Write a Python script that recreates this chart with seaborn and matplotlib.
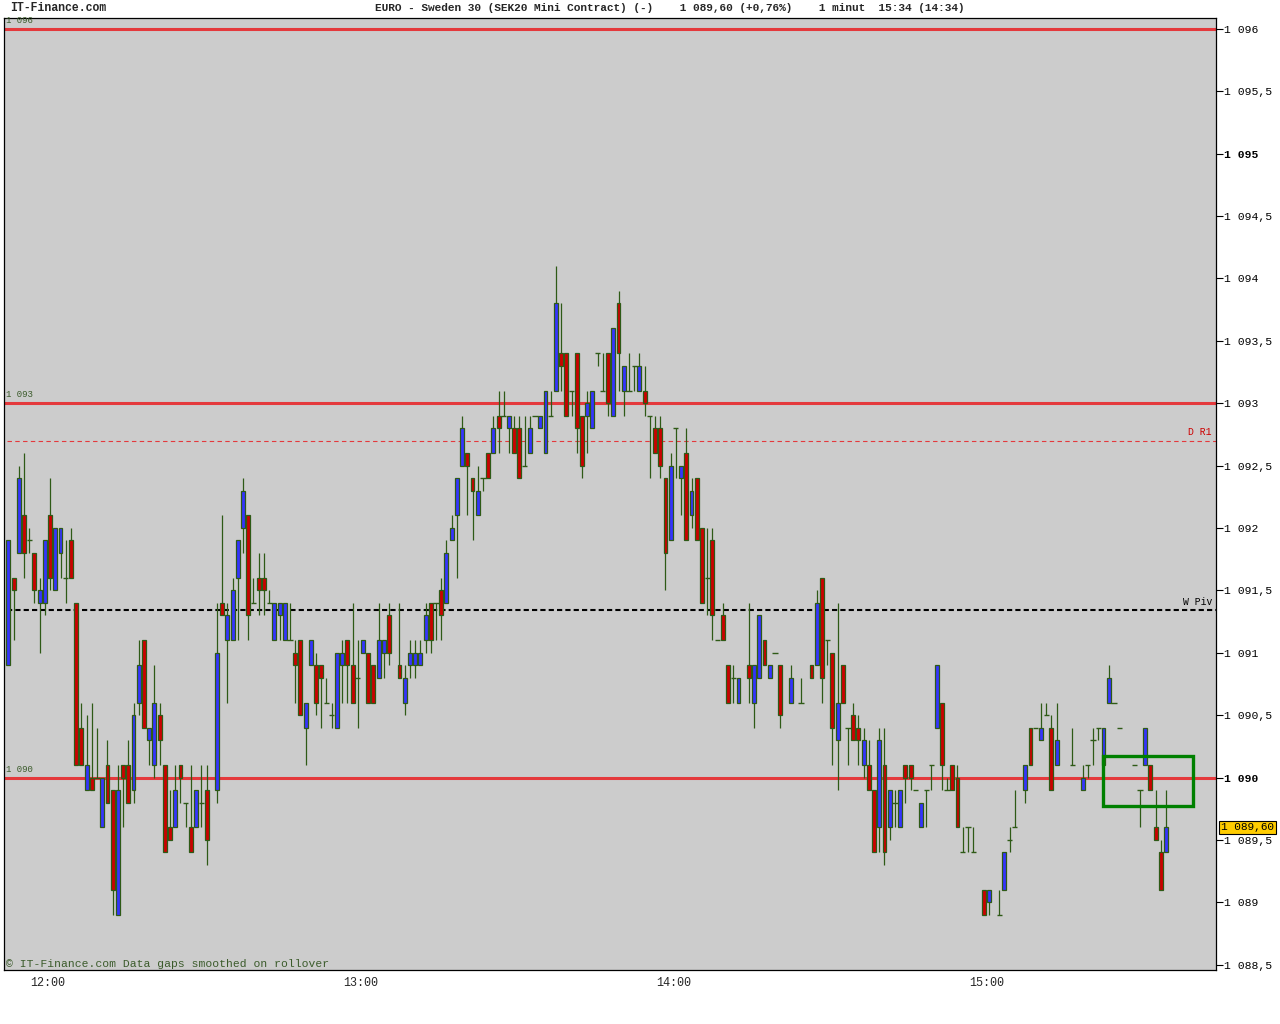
import matplotlib
matplotlib.use("Agg")
import matplotlib.pyplot as plt
import matplotlib.patches as mpatches
import seaborn as sns
import numpy as np

# one-minute bars, minutes counted from 12:00 (negative = before noon)
minutes = [-8, -7, -6, -5, -4, -3, -2, -1, 0, 1, 2, 3, 4, 5, 6, 7, 8, 9, 10, 11,
           12, 13, 14, 15, 16, 17, 18, 19, 20, 21, 22, 23, 24, 25, 26, 27, 28, 29, 30,
           32, 33, 34, 35, 36, 37, 38, 39, 40, 41, 42, 43, 44, 45, 46, 47, 48, 49, 50,
           51, 52, 53, 54, 55, 56, 57, 58, 59, 60, 61, 62, 63, 64, 65, 67, 68, 69, 70,
           71, 72, 73, 74, 75, 76, 77, 78, 79, 80, 81, 82, 83, 84, 85, 86, 87, 88, 89,
           90, 91, 92, 93, 94, 95, 96, 97, 98, 99, 100, 101, 102, 103, 104, 105, 106,
           107, 108, 109, 110, 111, 112, 113, 114, 115, 116, 117, 118, 119, 120, 121,
           122, 123, 124, 125, 126, 127, 128, 129, 130, 131, 132, 134, 135, 136, 137,
           138, 139, 140, 142, 144, 146, 147, 148, 149, 150, 151, 152, 153, 154, 155,
           156, 157, 158, 159, 160, 161, 162, 163, 164, 165, 166, 167, 168, 169, 170,
           171, 172, 173, 174, 175, 176, 177, 179, 180, 182, 183, 184, 185, 187, 188,
           189, 190, 191, 192, 193, 196, 198, 199, 200, 201, 202, 203, 204, 205, 208,
           209, 210, 211, 212, 213, 214]

opens = [1090.9, 1091.6, 1091.8, 1092.1, 1091.9, 1091.8, 1091.4, 1091.4, 1092.1, 1091.5,
         1091.8, 1091.6, 1091.9, 1091.4, 1090.4, 1089.9, 1090.0, 1090.0, 1089.6, 1090.1,
         1089.9, 1088.9, 1090.1, 1090.1, 1089.9, 1090.6, 1091.1, 1090.3, 1090.1, 1090.5,
         1090.1, 1089.6, 1089.6, 1090.1, 1089.8, 1089.6, 1089.6, 1089.8, 1089.9,
         1089.9, 1091.4, 1091.1, 1091.1, 1091.6, 1092.0, 1092.1, 1091.4, 1091.6, 1091.6,
         1091.4, 1091.1, 1091.3, 1091.1, 1091.1, 1091.0, 1091.1, 1090.4, 1090.9, 1090.9,
         1090.9, 1090.6, 1090.5, 1090.4, 1090.9, 1091.1, 1090.9, 1090.8, 1091.0, 1091.0,
         1090.9, 1090.8, 1091.0, 1091.3, 1090.9, 1090.6, 1090.9, 1090.9, 1090.9, 1091.1,
         1091.4, 1091.4, 1091.5, 1091.4, 1091.9, 1092.1, 1092.5, 1092.6, 1092.4, 1092.1,
         1092.4, 1092.6, 1092.6, 1092.9, 1092.9, 1092.8, 1092.8, 1092.8, 1092.5, 1092.6,
         1092.9, 1092.8, 1092.6, 1092.9, 1093.1, 1093.4, 1093.4, 1093.1, 1093.4, 1092.9,
         1092.9, 1092.8, 1093.4, 1093.1, 1093.4, 1092.9, 1093.8, 1093.1, 1093.1, 1093.3,
         1093.1, 1093.1, 1092.9, 1092.8, 1092.8, 1092.4, 1091.9, 1092.8, 1092.4, 1092.6,
         1092.1, 1092.4, 1092.0, 1091.6, 1091.9, 1091.1, 1091.3, 1090.9, 1090.8, 1090.6,
         1090.9, 1090.6, 1090.8, 1091.1, 1090.8, 1091.0, 1090.9, 1090.6, 1090.6, 1090.9,
         1090.9, 1091.6, 1091.1, 1091.0, 1090.3, 1090.9, 1090.4, 1090.5, 1090.4, 1090.1,
         1090.1, 1089.9, 1089.6, 1090.1, 1089.6, 1089.8, 1089.6, 1090.1, 1090.1, 1089.9,
         1089.6, 1089.9, 1090.1, 1090.4, 1090.6, 1089.9, 1090.1, 1090.0, 1089.4, 1089.6,
         1089.4, 1089.1, 1089.0, 1088.9, 1089.1, 1089.5, 1089.6, 1089.9, 1090.4, 1090.4,
         1090.3, 1090.5, 1090.4, 1090.1, 1090.1, 1089.9, 1090.1, 1090.3, 1090.4, 1090.1,
         1090.6, 1090.6, 1090.4, 1090.1, 1089.9, 1090.1, 1090.1, 1089.6, 1089.4, 1089.4]

highs = [1091.9, 1091.6, 1092.5, 1092.6, 1092.0, 1091.8, 1091.6, 1091.9, 1092.4, 1092.0,
         1092.0, 1091.9, 1092.0, 1091.4, 1090.6, 1090.5, 1090.6, 1090.4, 1090.0, 1090.3,
         1089.9, 1090.1, 1090.1, 1090.3, 1090.6, 1091.1, 1091.1, 1090.4, 1090.9, 1090.6,
         1090.1, 1089.9, 1090.1, 1090.1, 1089.8, 1090.1, 1089.9, 1090.1, 1090.1,
         1091.4, 1092.1, 1091.4, 1091.6, 1091.9, 1092.4, 1092.1, 1091.6, 1091.8, 1091.8,
         1091.5, 1091.4, 1091.4, 1091.4, 1091.4, 1091.1, 1091.1, 1090.6, 1091.1, 1091.0,
         1090.9, 1090.8, 1090.6, 1091.0, 1091.1, 1091.1, 1091.4, 1091.1, 1091.1, 1091.0,
         1090.9, 1091.4, 1091.1, 1091.4, 1091.4, 1090.9, 1091.1, 1091.1, 1091.1, 1091.4,
         1091.4, 1091.4, 1091.6, 1091.9, 1092.1, 1092.4, 1092.9, 1092.6, 1092.4, 1092.5,
         1092.4, 1092.6, 1092.9, 1093.1, 1093.1, 1092.9, 1092.9, 1092.9, 1092.9, 1092.9,
         1092.9, 1092.9, 1093.1, 1093.1, 1094.1, 1093.8, 1093.4, 1093.1, 1093.4, 1092.9,
         1093.1, 1093.1, 1093.4, 1093.4, 1093.4, 1093.6, 1093.9, 1093.3, 1093.4, 1093.3,
         1093.4, 1093.3, 1092.9, 1092.9, 1092.9, 1092.4, 1092.6, 1092.8, 1092.5, 1092.8,
         1092.4, 1092.4, 1092.0, 1092.0, 1092.0, 1091.1, 1091.4, 1090.9, 1090.9, 1090.8,
         1091.4, 1090.9, 1091.3, 1091.1, 1090.9, 1091.0, 1090.9, 1090.9, 1090.8, 1090.9,
         1091.5, 1091.6, 1091.1, 1091.0, 1091.4, 1090.9, 1090.4, 1090.6, 1090.5, 1090.4,
         1090.3, 1089.9, 1090.4, 1090.4, 1089.9, 1089.9, 1089.9, 1090.1, 1090.1, 1089.9,
         1089.8, 1089.9, 1090.1, 1090.9, 1090.6, 1090.0, 1090.1, 1090.1, 1089.6, 1089.6,
         1089.6, 1089.1, 1089.1, 1089.1, 1089.4, 1089.6, 1089.9, 1090.1, 1090.4, 1090.4,
         1090.6, 1090.6, 1090.5, 1090.6, 1090.4, 1090.1, 1090.1, 1090.4, 1090.4, 1090.4,
         1090.9, 1090.6, 1090.4, 1090.1, 1089.9, 1090.4, 1090.1, 1089.9, 1089.5, 1089.9]

lows = [1090.9, 1091.1, 1091.8, 1091.6, 1091.8, 1091.4, 1091.0, 1091.3, 1091.5, 1091.5,
        1091.6, 1091.4, 1091.6, 1090.1, 1090.1, 1089.9, 1089.9, 1090.0, 1089.6, 1089.8,
        1088.9, 1088.9, 1089.6, 1089.8, 1089.8, 1090.5, 1090.4, 1090.1, 1090.0, 1090.1,
        1089.4, 1089.5, 1089.6, 1089.8, 1089.6, 1089.4, 1089.6, 1089.6, 1089.3,
        1089.8, 1091.3, 1090.6, 1091.1, 1091.1, 1091.8, 1091.1, 1091.4, 1091.3, 1091.3,
        1091.4, 1091.1, 1091.1, 1091.1, 1091.1, 1090.6, 1090.5, 1090.1, 1090.9, 1090.5,
        1090.4, 1090.6, 1090.4, 1090.4, 1090.6, 1090.6, 1090.6, 1090.4, 1091.0, 1090.6,
        1090.6, 1090.8, 1090.8, 1090.9, 1090.8, 1090.5, 1090.8, 1090.8, 1090.9, 1091.0,
        1091.0, 1091.1, 1091.1, 1091.4, 1091.9, 1091.6, 1092.5, 1092.1, 1091.9, 1092.1,
        1092.3, 1092.4, 1092.6, 1092.6, 1092.9, 1092.6, 1092.6, 1092.4, 1092.5, 1092.6,
        1092.9, 1092.8, 1092.6, 1092.9, 1093.1, 1093.1, 1092.9, 1092.9, 1092.6, 1092.4,
        1092.6, 1092.8, 1093.3, 1093.1, 1092.9, 1092.9, 1093.1, 1092.9, 1093.1, 1093.1,
        1093.1, 1092.9, 1092.4, 1092.6, 1092.4, 1091.5, 1091.9, 1092.4, 1092.1, 1091.9,
        1092.0, 1091.9, 1091.4, 1091.3, 1091.1, 1091.1, 1091.1, 1090.6, 1090.6, 1090.6,
        1090.6, 1090.4, 1090.8, 1090.9, 1090.8, 1091.0, 1090.4, 1090.6, 1090.6, 1090.8,
        1090.9, 1090.6, 1090.9, 1090.1, 1089.9, 1090.6, 1090.1, 1090.3, 1090.1, 1090.0,
        1089.9, 1089.4, 1089.4, 1089.3, 1089.5, 1089.6, 1089.6, 1089.8, 1089.9, 1089.9,
        1089.6, 1089.6, 1089.9, 1090.4, 1089.9, 1089.9, 1089.9, 1089.6, 1089.4, 1089.4,
        1089.4, 1088.9, 1088.9, 1088.9, 1089.1, 1089.4, 1089.6, 1089.8, 1090.1, 1090.4,
        1090.3, 1090.5, 1089.9, 1090.1, 1090.1, 1089.9, 1090.0, 1090.1, 1090.3, 1090.1,
        1090.6, 1090.6, 1090.4, 1090.1, 1089.6, 1090.1, 1089.9, 1089.5, 1089.1, 1089.4]

closes = [1091.9, 1091.5, 1092.4, 1091.8, 1091.9, 1091.5, 1091.5, 1091.9, 1091.6, 1092.0,
          1092.0, 1091.6, 1091.6, 1090.1, 1090.1, 1090.1, 1089.9, 1090.0, 1090.0, 1089.8,
          1089.1, 1089.9, 1090.0, 1089.8, 1090.5, 1090.9, 1090.4, 1090.4, 1090.6, 1090.3,
          1089.4, 1089.5, 1089.9, 1090.0, 1089.8, 1089.4, 1089.9, 1089.8, 1089.5,
          1091.0, 1091.3, 1091.3, 1091.5, 1091.9, 1092.3, 1091.3, 1091.4, 1091.5, 1091.5,
          1091.4, 1091.4, 1091.4, 1091.4, 1091.1, 1090.9, 1090.5, 1090.6, 1091.1, 1090.6,
          1090.8, 1090.6, 1090.5, 1091.0, 1091.0, 1090.9, 1090.6, 1090.8, 1091.1, 1090.6,
          1090.6, 1091.1, 1091.1, 1091.0, 1090.8, 1090.8, 1091.0, 1091.0, 1091.0, 1091.3,
          1091.1, 1091.4, 1091.3, 1091.8, 1092.0, 1092.4, 1092.8, 1092.5, 1092.3, 1092.3,
          1092.4, 1092.4, 1092.8, 1092.8, 1092.9, 1092.9, 1092.6, 1092.4, 1092.5, 1092.8,
          1092.9, 1092.9, 1093.1, 1092.9, 1093.8, 1093.3, 1092.9, 1093.1, 1092.8, 1092.5,
          1093.0, 1093.1, 1093.4, 1093.1, 1093.0, 1093.6, 1093.4, 1093.3, 1093.1, 1093.3,
          1093.3, 1093.0, 1092.9, 1092.6, 1092.5, 1091.8, 1092.5, 1092.8, 1092.5, 1091.9,
          1092.3, 1091.9, 1091.4, 1091.6, 1091.3, 1091.1, 1091.1, 1090.6, 1090.8, 1090.8,
          1090.8, 1090.9, 1091.3, 1090.9, 1090.9, 1091.0, 1090.5, 1090.8, 1090.6, 1090.8,
          1091.4, 1090.8, 1091.1, 1090.4, 1090.6, 1090.6, 1090.4, 1090.3, 1090.3, 1090.3,
          1089.9, 1089.4, 1090.3, 1089.4, 1089.9, 1089.8, 1089.9, 1090.0, 1090.0, 1089.9,
          1089.8, 1089.9, 1090.1, 1090.9, 1090.1, 1089.9, 1089.9, 1089.6, 1089.4, 1089.6,
          1089.4, 1088.9, 1089.1, 1088.9, 1089.4, 1089.5, 1089.6, 1090.1, 1090.1, 1090.4,
          1090.4, 1090.5, 1089.9, 1090.3, 1090.1, 1090.0, 1090.1, 1090.3, 1090.4, 1090.4,
          1090.8, 1090.6, 1090.4, 1090.1, 1089.9, 1090.4, 1089.9, 1089.5, 1089.1, 1089.6]

# reference levels
level_lines = [1096.0, 1093.0, 1090.0]
level_labels = ["1 096", "1 093", "1 090"]
daily_r1 = 1092.7
weekly_pivot = 1091.34
last_price = 1089.60
box_minutes = (202.3, 219.6)
box_prices = (1089.77, 1090.17)

hour_ticks = [0, 60, 120, 180]
hour_labels = ["12:00", "13:00", "14:00", "15:00"]
price_ticks = np.arange(1088.5, 1096.01, 0.5)

title_left = "IT-Finance.com"
title_main = ("EURO - Sweden 30 (SEK20 Mini Contract) (-)    1 089,60 (+0,76%)"
              "    1 minut  15:34 (14:34)")
footer = "\u00a9 IT-Finance.com Data gaps smoothed on rollover"

BLUE = "#3434ff"
RED = "#cc0000"
EDGE = "#2e5a16"
LEVEL_RED = "#e4393c"
LABEL_GREEN = "#3b5b2b"

Y0, Y1 = 1088.458, 1096.086


def fmt_price(v):
    whole = int(np.floor(v + 1e-9))
    s = f"{whole // 1000} {whole % 1000:03d}"
    if abs(v - whole - 0.5) < 1e-6:
        s += ",5"
    return s


def main():
    sns.set_theme(style="white")
    plt.rcParams["font.family"] = ["Liberation Mono", "DejaVu Sans Mono"]

    fig = plt.figure(figsize=(12.8, 10.24), dpi=100)
    fig.patch.set_facecolor("white")
    ax = fig.add_axes([4 / 1280, 54 / 1024, 1212 / 1280, 952 / 1024])
    ax.set_facecolor("#cccccc")

    x = np.array(minutes, dtype=float) + 0.4
    o = np.array(opens)
    h = np.array(highs)
    lo = np.array(lows)
    c = np.array(closes)

    # level lines
    for lv in level_lines:
        ax.axhline(lv, color=LEVEL_RED, lw=2.2, zorder=1)
    ax.hlines(daily_r1, -7.8, 224, color=LEVEL_RED, lw=0.8, linestyles=(0, (4, 3)), zorder=1)
    ax.hlines(weekly_pivot, -7.8, 224, color="black", lw=1.5, linestyles=(0, (2.5, 1.5)), zorder=1)

    # wicks
    ax.vlines(x, lo, h, color=EDGE, lw=0.9, zorder=2)

    up = c > o
    down = c < o
    flat = c == o
    ax.bar(x[up], (c - o)[up], bottom=o[up], width=0.75, color=BLUE,
           edgecolor=EDGE, linewidth=0.9, zorder=3)
    ax.bar(x[down], (o - c)[down], bottom=c[down], width=0.75, color=RED,
           edgecolor=EDGE, linewidth=0.9, zorder=3)
    ax.hlines(c[flat], x[flat] - 0.5, x[flat] + 0.5, color=EDGE, lw=1.0, zorder=3)

    # green box
    ax.add_patch(mpatches.Rectangle((box_minutes[0], box_prices[0]),
                                    box_minutes[1] - box_minutes[0],
                                    box_prices[1] - box_prices[0],
                                    fill=False, edgecolor="#008000", lw=2.4, zorder=4))

    ax.set_xlim(-8.44, 223.97)
    ax.set_ylim(Y0, Y1)

    # level labels
    for lv, lab in zip(level_lines, level_labels):
        ax.text(-8.0, lv + 0.03, lab, fontsize=6.5, color=LABEL_GREEN, va="bottom", ha="left")
    ax.text(223.2, daily_r1 + 0.03, "D R1", fontsize=7, color=RED, va="bottom", ha="right")
    ax.text(223.2, weekly_pivot + 0.03, "W Piv", fontsize=7, color="black", va="bottom", ha="right")
    ax.text(-8.0, 1088.47, footer, fontsize=8.2, color=LABEL_GREEN, va="bottom", ha="left")

    # axes
    ax.yaxis.tick_right()
    ax.set_yticks(price_ticks)
    ax.set_yticklabels([fmt_price(v) for v in price_ticks])
    for v, lab in zip(price_ticks, ax.get_yticklabels()):
        if abs(v - round(v / 5) * 5) < 1e-6:
            lab.set_fontweight("bold")
    ax.tick_params(axis="y", which="both", right=True, left=False, direction="out",
                   length=5, width=0.8, pad=1, labelsize=8.2, colors="black")
    ax.set_xticks(hour_ticks)
    ax.set_xticklabels(hour_labels)
    ax.tick_params(axis="x", bottom=True, length=0, pad=5, labelsize=8.5)
    for sp in ax.spines.values():
        sp.set_color("black")
        sp.set_linewidth(0.9)
    ax.grid(False)

    # last price tag
    ax.text(1.004, (last_price - Y0) / (Y1 - Y0), "1 089,60",
            transform=ax.transAxes, fontsize=8, ha="left", va="center", color="black",
            bbox=dict(boxstyle="square,pad=0.15", facecolor="#ffcc00", edgecolor="black", lw=0.8))

    fig.text(10 / 1280, 1 - 8 / 1024, title_left, fontsize=8.3, fontweight="bold",
             ha="left", va="center")
    fig.text(375 / 1280, 1 - 8 / 1024, title_main, fontsize=8.0, fontweight="bold",
             ha="left", va="center")

    fig.savefig("out.png", dpi=100)
    plt.close(fig)


if __name__ == "__main__":
    main()
